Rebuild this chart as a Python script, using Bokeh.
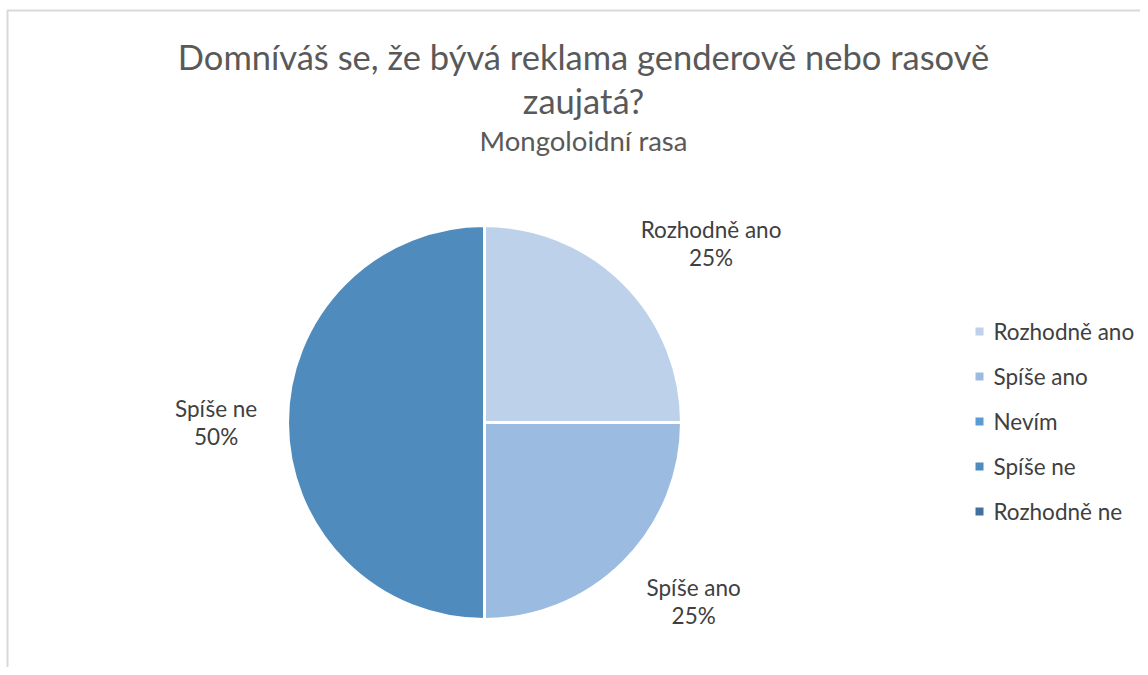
import math
from bokeh.plotting import figure
from bokeh.models import ColumnDataSource, Range1d
from bokeh.core.properties import value
from bokeh.embed import file_html
from bokeh.resources import INLINE

title_line1 = "Domníváš se, že bývá reklama genderově nebo rasově"
title_line2 = "zaujatá?"
subtitle = "Mongoloidní rasa"
categories = ["Rozhodně ano", "Spíše ano", "Nevím", "Spíše ne", "Rozhodně ne"]
values = [25, 25, 0, 50, 0]
colors = ["#BDD1EA", "#9CBBE0", "#5B9BD5", "#508BBE", "#41709C"]

W, H = 1140, 667
FONT = "Lato"

def Y(py):
    return H - py

def X(px):
    return px

p = figure(width=W, height=H, output_backend="svg", toolbar_location=None,
           x_range=Range1d(0, W), y_range=Range1d(0, H), min_border=0)
p.axis.visible = False
p.grid.visible = False
p.outline_line_color = None
p.background_fill_color = "white"
p.border_fill_color = "white"

# chart area border (only top and left visible within the window)
p.line(x=[X(7), X(7), X(2000)], y=[Y(2000), Y(10), Y(10)], line_color="#D9D9D9", line_width=2)

# title
p.text(x=[X(583)], y=[Y(56)], text=[title_line1], text_align="center", text_baseline="middle",
       text_font=value(FONT), text_font_size="34.5px", text_color="#595959")
p.text(x=[X(583)], y=[Y(100)], text=[title_line2], text_align="center", text_baseline="middle",
       text_font=value(FONT), text_font_size="34.5px", text_color="#595959")
p.text(x=[X(583)], y=[Y(140)], text=[subtitle], text_align="center", text_baseline="middle",
       text_font=value(FONT), text_font_size="27.5px", text_color="#595959")

# pie
cx, cy, r = X(484), Y(422), 197
total = sum(values)
starts, ends, mids = [], [], []
acc = 0.0
for v in values:
    a0 = math.pi / 2 - 2 * math.pi * acc / total
    acc += v
    a1 = math.pi / 2 - 2 * math.pi * acc / total
    starts.append(a1)
    ends.append(a0)
    mids.append((a0 + a1) / 2)

nz = [i for i, v in enumerate(values) if v > 0]
src_nz = ColumnDataSource(dict(start=[starts[i] for i in nz], end=[ends[i] for i in nz],
                               color=[colors[i] for i in nz]))
p.wedge(x=cx, y=cy, radius=r, start_angle="start", end_angle="end", fill_color="color",
        line_color="white", line_width=3, source=src_nz)

# data labels outside the pie
def sgn(v):
    return 0 if abs(v) < 1e-9 else (1 if v > 0 else -1)

lx, ly1, ly2 = [], [], []
for i in nz:
    m = mids[i]
    c, s = math.cos(m), math.sin(m)
    x = cx + (r + 25) * c + sgn(c) * len(categories[i]) * 5.8
    y = cy + (r + 25) * s + sgn(s) * 22
    lx.append(x)
    ly1.append(y + 14)
    ly2.append(y - 14)
p.text(x=lx, y=ly1, text=[categories[i] for i in nz], text_align="center", text_baseline="middle",
       text_font=value(FONT), text_font_size="22.5px", text_color="#404040")
p.text(x=lx, y=ly2, text=[f"{values[i]}%" for i in nz], text_align="center", text_baseline="middle",
       text_font=value(FONT), text_font_size="22.5px", text_color="#404040")

# legend
leg_y = [Y(331 + 45 * i) for i in range(len(categories))]
p.rect(x=[X(979)] * len(categories), y=leg_y, width=8, height=8, fill_color=colors, line_color=None)
p.text(x=[X(993)] * len(categories), y=leg_y, text=categories, text_align="left", text_baseline="middle",
       text_font=value(FONT), text_font_size="22.5px", text_color="#404040")

open("out.html", "w").write(file_html(p, INLINE))
